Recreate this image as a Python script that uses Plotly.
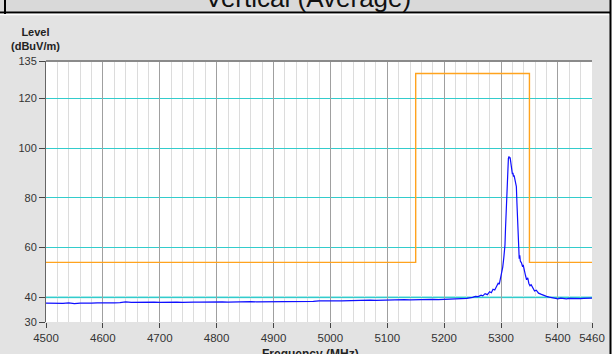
import plotly.graph_objects as go

# ---------------- data ----------------
base_freq = [4500, 4510, 4520, 4530, 4540, 4550, 4560, 4570, 4580, 4590,
             4600, 4610, 4620, 4630, 4640, 4650, 4660, 4670, 4680, 4690,
             4700, 4710, 4720, 4730, 4740, 4750, 4760, 4770, 4780, 4790,
             4800, 4810, 4820, 4830, 4840, 4850, 4860, 4870, 4880, 4890,
             4900, 4910, 4920, 4930, 4940, 4950, 4960, 4970, 4980, 4990,
             5000, 5010, 5020, 5030, 5040, 5050, 5060, 5070, 5080, 5090,
             5100, 5110, 5120, 5130, 5140, 5150, 5160, 5170, 5180, 5190,
             5200, 5210, 5220, 5230, 5240]
base_level = [37.6, 37.5, 37.6, 37.5, 37.7, 37.4, 37.6, 37.5, 37.6, 37.7,
              37.6, 37.7, 37.7, 37.8, 38.1, 37.9, 38.0, 37.9, 37.9, 38.0,
              37.9, 38.0, 37.9, 38.0, 37.9, 38.1, 38.0, 38.0, 38.1, 38.0,
              38.0, 38.1, 38.0, 38.1, 38.1, 38.0, 38.2, 38.1, 38.1, 38.3,
              38.1, 38.2, 38.2, 38.2, 38.3, 38.2, 38.4, 38.3, 38.5, 38.4,
              38.4, 38.5, 38.5, 38.6, 38.5, 38.7, 38.6, 38.8, 38.7, 38.8,
              38.8, 38.9, 38.8, 39.0, 38.9, 39.0, 38.9, 39.0, 39.1, 39.0,
              39.1, 39.1, 39.2, 39.3, 39.5]

peak_freq = [5250, 5255, 5260, 5265, 5268, 5272, 5276, 5280, 5283, 5286,
             5289, 5292, 5295, 5297, 5299, 5301, 5303, 5305, 5306, 5307,
             5308, 5309, 5310, 5311, 5312, 5313, 5314, 5315, 5316, 5317,
             5318, 5319, 5320, 5321, 5322, 5323, 5324, 5325, 5326, 5327,
             5328, 5329, 5330, 5331, 5332, 5333, 5334, 5336, 5338, 5339,
             5341, 5343, 5345, 5347, 5349, 5351, 5353, 5356, 5359, 5362,
             5366, 5370, 5375, 5380, 5385, 5390, 5395, 5400, 5405, 5410,
             5415, 5420, 5425, 5430, 5435, 5440, 5445, 5450, 5455, 5460]
peak_level = [39.9, 40.3, 40.2, 40.8, 40.5, 41.4, 41.0, 42.2, 41.8, 43.2,
              42.9, 44.5, 45.6, 45.2, 47.5, 49.6, 52.0, 56.0, 58.5, 61.0,
              68.0, 75.0, 84.0, 90.5, 94.5, 95.8, 96.6, 95.9, 96.2, 94.8,
              92.0, 91.2, 89.5, 90.0, 88.5, 89.0, 88.0, 87.5, 86.0, 84.5,
              78.0, 70.0, 62.0, 58.0, 55.5, 56.8, 54.5, 53.8, 52.2, 53.0,
              50.2, 48.8, 47.0, 47.8, 45.5, 44.6, 45.0, 43.4, 42.5, 42.8,
              41.6, 41.2, 40.6, 40.3, 40.0, 39.7, 39.5, 39.3, 39.6, 39.4,
              39.3, 39.5, 39.4, 39.3, 39.5, 39.4, 39.5, 39.5, 39.6, 39.6]

limit_freq = [4500, 5150, 5150, 5350, 5350, 5460]
limit_level = [54, 54, 130, 130, 54, 54]

x_tickvals = [4500, 4600, 4700, 4800, 4900, 5000, 5100, 5200, 5300, 5400, 5460]
y_tickvals = [30, 40, 60, 80, 100, 120, 135]
y_gridvals = [40, 60, 80, 100, 120]

title_text = "Vertical (Average)"
y_title = "Level<br>(dBuV/m)"
x_title = "Frequency (MHz)"

# ---------------- layout geometry ----------------
W, H = 616, 354
ML, MR, MT, MB = 46, 24, 61, 32
PW, PH = W - ML - MR, H - MT - MB


def px(x):
    return (x - ML) / PW


def py(y):
    return (H - MB - y) / PH


FONT = "Arial, Liberation Sans, sans-serif"

fig = go.Figure()
fig.add_trace(go.Scatter(x=limit_freq, y=limit_level, mode="lines",
                         line=dict(color="#ffa31e", width=1.4),
                         hoverinfo="skip", showlegend=False))
fig.add_trace(go.Scatter(x=base_freq + peak_freq, y=base_level + peak_level,
                         mode="lines", line=dict(color="#1010ff", width=1.2),
                         showlegend=False))

shapes = [
    # lighter, thicker 40 dB line
    dict(type="line", xref="paper", yref="y", x0=0, x1=1, y0=40, y1=40,
         line=dict(color="#86e3e3", width=2), layer="below"),
    # top border of plot
    dict(type="line", xref="paper", yref="paper", x0=0, x1=1, y0=1, y1=1,
         line=dict(color="#8a8a8a", width=2)),
    # top strip
    dict(type="rect", xref="paper", yref="paper", x0=px(0), x1=px(611),
         y0=py(12.5), y1=py(0), fillcolor="#d9d9d9", line=dict(width=0),
         layer="below"),
    dict(type="line", xref="paper", yref="paper", x0=px(0), x1=px(611),
         y0=py(12.5), y1=py(12.5), line=dict(color="#000000", width=2)),
    dict(type="line", xref="paper", yref="paper", x0=px(0), x1=px(609),
         y0=py(14.5), y1=py(14.5), line=dict(color="#ffffff", width=1.5)),
    dict(type="line", xref="paper", yref="paper", x0=px(5), x1=px(5),
         y0=py(0), y1=py(14), line=dict(color="#000000", width=2)),
    # right white margin and black edge
    dict(type="rect", xref="paper", yref="paper", x0=px(611), x1=px(617),
         y0=py(H), y1=py(0), fillcolor="#ffffff", line=dict(width=0)),
    dict(type="line", xref="paper", yref="paper", x0=px(610.5), x1=px(610.5),
         y0=py(H), y1=py(0), line=dict(color="#000000", width=2)),
]

annotations = [
    dict(text=title_text, xref="paper", yref="paper", x=px(308), y=py(15),
         xanchor="center", yanchor="bottom", showarrow=False,
         font=dict(family=FONT, size=26, color="#111111")),
    dict(text="<b>" + y_title + "</b>", xref="paper", yref="paper",
         x=px(35.5), y=py(54), xanchor="center", yanchor="bottom",
         showarrow=False, align="center",
         font=dict(family=FONT, size=11, color="#222222")),
    dict(text="<b>" + x_title + "</b>", xref="paper", yref="paper",
         x=px(310), y=py(345), xanchor="center", yanchor="top",
         showarrow=False, font=dict(family=FONT, size=12, color="#222222")),
]

fig.update_layout(
    width=W, height=H,
    margin=dict(l=ML, r=MR, t=MT, b=MB, pad=0, autoexpand=False),
    paper_bgcolor="#e3e3e3", plot_bgcolor="#ffffff",
    showlegend=False,
    shapes=shapes, annotations=annotations,
    xaxis=dict(range=[4500, 5460], tickmode="array", tickvals=x_tickvals,
               ticktext=[str(v) for v in x_tickvals], automargin=False,
               ticks="outside", ticklen=5, tickwidth=1, tickcolor="#444444",
               tickfont=dict(family=FONT, size=11.5, color="#333333"),
               showgrid=True, gridcolor="#a0a0a0", gridwidth=1.3,
               showline=False, zeroline=False,
               minor=dict(dtick=20, tick0=4500, showgrid=True,
                          gridcolor="#dcdcdc", gridwidth=1.3, ticks="")),
    yaxis=dict(range=[30, 135], tickmode="array", tickvals=y_tickvals,
               automargin=False,
               ticks="outside", ticklen=6, tickwidth=1, tickcolor="#444444",
               tickfont=dict(family=FONT, size=11, color="#333333"),
               showgrid=False, showline=True, linecolor="#666666",
               linewidth=1, zeroline=False,
               minor=dict(tickmode="array", tickvals=y_gridvals,
                          showgrid=True, gridcolor="#33cccc", gridwidth=1.2,
                          ticks="")),
)

fig.write_html("out.html", config={"displayModeBar": False},
               post_script="document.body.style.margin='0';"
                           "document.body.style.overflow='hidden';")
